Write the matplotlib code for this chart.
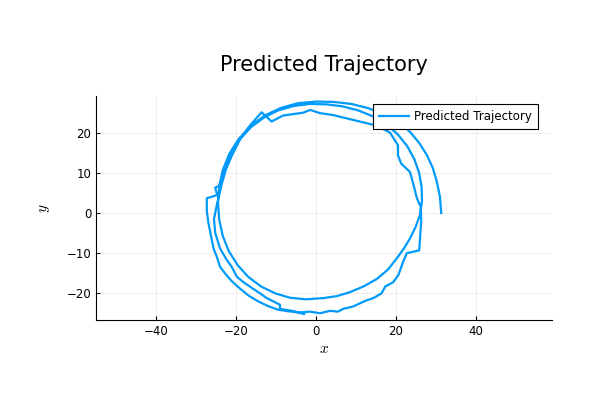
import matplotlib
matplotlib.use("Agg")
import matplotlib.pyplot as plt

# predicted trajectory points
x = [31.3, 31.0, 30.2, 29.2, 27.7, 25.8, 23.5, 20.8, 17.3, 13.2, 8.9, 4.5, 0.0,
     -4.5, -8.8, -12.8, -16.4, -19.4, -21.7, -23.3, -24.2, -24.5, -24.2, -23.3,
     -21.8, -19.6, -16.9, -13.7, -10.2, -6.5, -2.6, 1.8, 5.2, 8.5, 12.0, 15.2,
     18.0, 20.2, 22.0, 23.5, 24.9, 26.0, 26.5, 26.4, 25.8, 24.6, 22.8, 20.4,
     17.5, 14.2, 10.5, 6.6, 2.6, -1.5, -5.5, -9.4, -13.0, -16.2, -19.0, -21.2,
     -22.3, -23.3, -24.2, -25.2, -24.7, -27.3, -27.3, -26.9, -26.2, -25.6,
     -24.8, -24.0, -22.5, -21.0, -19.0, -16.8, -14.5, -12.0, -9.5, -7.0, -4.0,
     -1.5, 1.0, 3.5, 5.5, 6.8, 9.3, 12.3, 14.3, 16.4, 17.3, 19.3, 20.6, 21.8,
     22.7, 25.8, 26.0, 26.3, 26.2, 25.2, 24.4, 23.5, 21.3, 20.5, 20.5, 18.5,
     15.0, 9.3, 4.3, 1.0, -1.5, -3.2, -8.2, -11.1, -13.6, -16.5, -19.0, -21.0,
     -22.5, -23.5, -24.8, -25.5, -25.2, -24.0, -22.5, -21.1, -19.8, -18.0,
     -16.5, -14.3, -12.3, -10.5, -9.0, -9.0, -6.0, -3.0]
y = [0.0, 4.0, 7.9, 11.3, 14.6, 17.6, 20.4, 22.6, 24.6, 26.3, 27.4, 27.9, 28.0,
     27.6, 26.4, 24.5, 21.8, 18.5, 14.8, 10.8, 6.7, 2.5, -1.7, -5.8,
     -9.6, -13.1, -16.1, -18.5, -20.2, -21.3, -21.7, -21.4, -20.9, -19.9, -18.4,
     -16.6, -14.2, -11.4, -8.9, -6.4, -3.5, -0.5, 3.0, 6.5, 10.0, 13.5, 16.8,
     19.8, 22.3, 24.3, 25.8, 26.8, 27.3, 27.4, 26.9, 25.8, 24.0, 21.6, 18.6,
     15.3, 12.5, 9.5, 6.8, 6.4, 4.5, 3.7, 0.5, -2.5, -6.0, -9.0,
     -11.0, -13.5, -15.5, -17.2, -19.0, -20.8, -22.2, -23.4, -24.3, -24.7,
     -25.0, -24.8, -25.2, -24.6, -24.8, -24.1, -23.5, -22.1, -21.4, -20.2,
     -18.5, -17.4, -15.6, -12.2, -10.1, -9.4, -6.3, -2.0, 1.5, 3.8, 7.0,
     10.3, 12.4, 14.5, 17.0, 20.2, 22.0, 23.4, 24.6, 25.1, 25.9, 25.2, 24.5,
     23.0, 25.3, 22.0, 18.5, 14.5, 11.0, 7.5, 2.0, -1.5, -5.0, -8.9, -11.5,
     -13.5, -16.0, -17.5, -18.5, -20.0, -21.4, -22.3, -23.1, -24.1, -24.6,
     -25.4]

plt.rcParams["mathtext.fontset"] = "cm"

fig = plt.figure(figsize=(6, 4), dpi=100)
ax = fig.add_axes([0.16, 0.2, 0.76, 0.56])
ax.plot(x, y, color="#009AFA", lw=1.6, label="Predicted Trajectory")
ax.set_xlim(-55, 59)
ax.set_ylim(-26.9, 29.4)
ax.set_xticks([-40, -20, 0, 20, 40])
ax.set_yticks([-20, -10, 0, 10, 20])
ax.grid(True, color="black", alpha=0.08, lw=0.6)
ax.tick_params(direction="in", labelsize=8.5, length=3)
for s in ["top", "right"]:
    ax.spines[s].set_visible(False)
ax.set_xlabel("$x$", fontsize=11, labelpad=2)
ax.set_ylabel("$y$", fontsize=11, labelpad=10)
ax.set_title("Predicted Trajectory", fontsize=15, pad=18)
leg = ax.legend(loc="upper right", bbox_to_anchor=(0.969, 0.964), fontsize=8.5,
                fancybox=False, framealpha=1, edgecolor="black",
                borderaxespad=0, borderpad=0.5, handlelength=2.6,
                handletextpad=0.4)
leg.get_frame().set_linewidth(0.8)

plt.savefig("out.png")
